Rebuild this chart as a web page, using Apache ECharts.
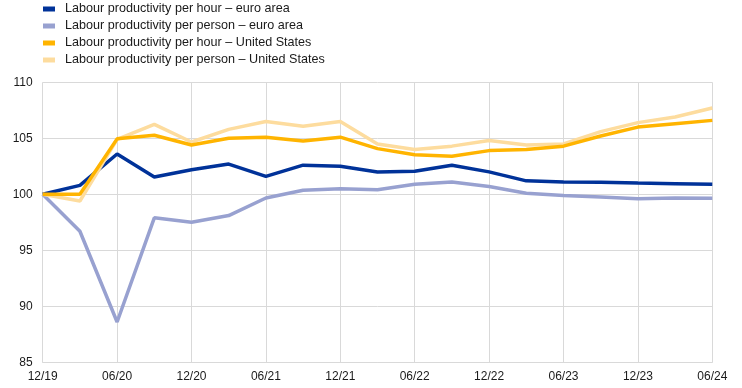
<!DOCTYPE html>
<html>
<head>
<meta charset="utf-8">
<script src="https://cdn.jsdelivr.net/npm/echarts@6/dist/echarts.min.js"></script>
<style>html,body{margin:0;padding:0;background:#fff}#c{width:742px;height:388px}</style>
</head>
<body>
<div id="c"></div>
<script>
var categories = ['12/19','03/20','06/20','09/20','12/20','03/21','06/21','09/21','12/21','03/22','06/22','09/22','12/22','03/23','06/23','09/23','12/23','03/24','06/24'];
var euroHour   = [100, 100.8, 103.6, 101.55, 102.2, 102.7, 101.6, 102.6, 102.5, 102.0, 102.05, 102.6, 102.0, 101.2, 101.1, 101.07, 101.0, 100.95, 100.9];
var euroPerson = [100, 96.7, 88.6, 97.9, 97.5, 98.1, 99.67, 100.36, 100.5, 100.4, 100.9, 101.1, 100.7, 100.1, 99.9, 99.76, 99.6, 99.67, 99.65];
var usHour     = [100, 100.0, 104.95, 105.27, 104.4, 105.0, 105.1, 104.76, 105.1, 104.08, 103.54, 103.4, 103.9, 104.0, 104.3, 105.2, 106.0, 106.3, 106.6];
var usPerson   = [100, 99.4, 104.9, 106.25, 104.67, 105.8, 106.5, 106.07, 106.5, 104.5, 104.0, 104.3, 104.8, 104.4, 104.5, 105.6, 106.4, 106.9, 107.7];
var names = ['Labour productivity per hour \u2013 euro area','Labour productivity per person \u2013 euro area','Labour productivity per hour \u2013 United States','Labour productivity per person \u2013 United States'];
var yTicks = {min: 85, max: 110, interval: 5};

var chart = echarts.init(document.getElementById('c'), null, {renderer: 'canvas'});
function s(name, data, color, z) {
  return {name: name, type: 'line', data: data, symbol: 'none', z: z,
    lineStyle: {color: color, width: 3.5}, itemStyle: {color: color}, animation: false};
}
chart.setOption({
  animation: false,
  textStyle: {fontFamily: 'Liberation Sans, Arial, sans-serif'},
  legend: {
    orient: 'vertical', left: 43, top: 0, padding: [2, 5, 5, 0], itemWidth: 12, itemHeight: 5, itemGap: 3,
    icon: 'rect', data: names, selectedMode: false,
    textStyle: {fontSize: 12.6, color: '#1a1a1a', lineHeight: 14, padding: [0,0,0,5], fontFamily: 'Liberation Sans, Arial, sans-serif'}
  },
  grid: {left: 42.7, right: 29.7, top: 82.3, bottom: 25.7, containLabel: false},
  xAxis: {
    type: 'category', data: categories, boundaryGap: false,
    axisLine: {show: true, lineStyle: {color: '#d9d9d9', width: 1}},
    axisTick: {show: false},
    axisLabel: {interval: 1, color: '#1a1a1a', fontSize: 12, margin: 8, fontFamily: 'Liberation Sans, Arial, sans-serif'},
    splitLine: {show: true, interval: 1, lineStyle: {color: '#d9d9d9', width: 1}}
  },
  yAxis: {
    type: 'value', min: yTicks.min, max: yTicks.max, interval: yTicks.interval,
    axisLine: {show: false}, axisTick: {show: false},
    axisLabel: {color: '#1a1a1a', fontSize: 12, margin: 10, fontFamily: 'Liberation Sans, Arial, sans-serif'},
    splitLine: {show: true, lineStyle: {color: '#d9d9d9', width: 1}}
  },
  series: [
    s(names[1], euroPerson, '#98a1d0', 2),
    s(names[0], euroHour, '#003299', 3),
    s(names[3], usPerson, '#fddc9e', 4),
    s(names[2], usHour, '#ffb400', 5)
  ]
});
</script>
</body>
</html>
